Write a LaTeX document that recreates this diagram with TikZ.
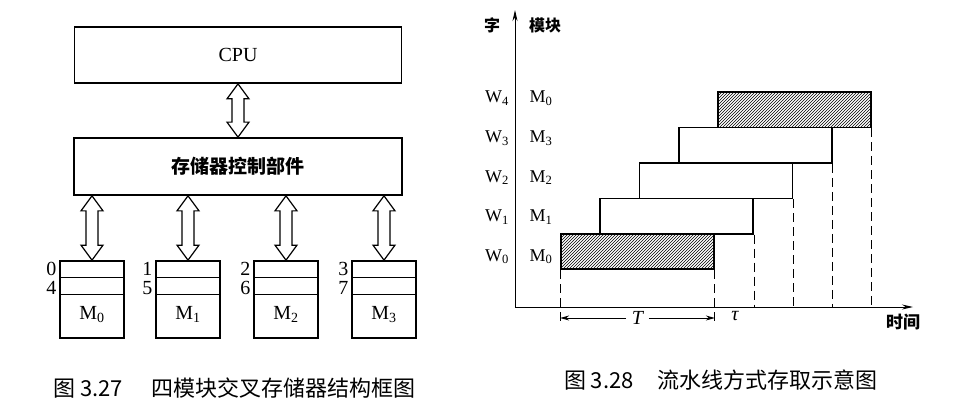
\documentclass[tikz,border=0pt]{standalone}
\usepackage{fontspec}
\setmainfont{Liberation Serif}
\newfontfamily\cjk{Noto Sans CJK SC}
\usetikzlibrary{arrows.meta,patterns,calc}
\newcommand{\fatarrow}[2]{\draw[line width=1.2pt,fill=white] let \p1=(#1),\p2=(#2) in
  (\x1,\y1) -- ++(11pt,-15pt) -- ++(-5pt,0pt) -- (\x1+6pt,\y2+15pt) -- ++(5pt,0pt) -- (\x1,\y2)
  -- ++(-11pt,15pt) -- ++(5pt,0pt) -- (\x1-6pt,\y1-15pt) -- ++(-5pt,0pt) -- cycle;}

\begin{document}
\begin{tikzpicture}[x=1pt,y=-1pt,line width=1.6pt,
  box/.style={draw,line width=1.7pt,inner sep=0pt},
  bar/.style={draw,line width=1.7pt,minimum width=153pt,minimum height=35.4pt,inner sep=0pt},
  hatch/.style={pattern=north east lines},plain/.style={},
  lab/.style={font=\fontsize{18}{18}\selectfont,inner sep=0pt},
  dash line/.style={line width=1.1pt,dash pattern=on 9pt off 5pt},
  tip/.style={-{Stealth[length=9pt,width=5pt]}}]
\useasboundingbox (0,0) rectangle (965,406);
% left: four module interleaved memory
\node[box,minimum width=327pt,minimum height=56pt,font=\fontsize{20}{20}\selectfont] (cpu) at (238,55) {CPU};
\node[box,minimum width=328pt,minimum height=57pt,font=\cjk\bfseries\fontsize{19}{19}\selectfont] (ctl) at (238,166.5) {存储器控制部件};
\fatarrow{cpu.south}{ctl.north}
\foreach \i/\x/\a/\b in {0/92/0/4,1/188/1/5,2/286/2/6,3/384/3/7}{
  \node[box,minimum width=64pt,minimum height=77pt] (m\i) at (\x,299.5) {};
  \draw[line width=1.2pt] ($(m\i.north west)+(0,17)$) -- ($(m\i.north east)+(0,17)$);
  \draw[line width=1.2pt] ($(m\i.north west)+(0,34)$) -- ($(m\i.north east)+(0,34)$);
  \node[font=\fontsize{20}{20}\selectfont,inner sep=0pt] (ml\i) at ($(m\i.north)+(0,54)$) {M\textsubscript{\i}};
  \node[font=\fontsize{20}{20}\selectfont,inner sep=0pt,anchor=east] (ad\i) at ($(m\i.north west)+(-2,9)$) {\a};
  \node[font=\fontsize{20}{20}\selectfont,inner sep=0pt,anchor=east] (bd\i) at ($(m\i.north west)+(-2,28)$) {\b};
  \fatarrow{m\i.north |- ctl.south}{m\i.north}
}
\node[font=\cjk\fontsize{22}{22}\selectfont] (cap1) at (234.5,388) {图 3.27\hspace{1.3em}四模块交叉存储器结构框图};
% right: pipelined access
\coordinate (o) at (515,307);
\coordinate (ytop) at (515,10);
\coordinate (xend) at (913,307);
\coordinate (tb) at (0,322);
\draw[line width=1pt,-{Stealth[length=11pt,width=5pt]}] (o) -- (ytop);
\draw[line width=1pt,-{Stealth[length=11pt,width=5pt]}] (o) -- (xend);
\foreach \i/\s in {0/hatch,1/plain,2/plain,3/plain,4/hatch}{
  \pgfmathsetmacro\bx{637.5+39.25*\i}
  \pgfmathsetmacro\by{251.5-35.4*\i}
  \node[bar,\s] (b\i) at (\bx,\by) {};
}
\foreach \i/\m in {0/0,1/1,2/2,3/3,4/0}{
  \pgfmathsetmacro\ly{256.7-39.6*\i}
  \node[lab] (w\i) at (497,\ly) {W\textsubscript{\i}};
  \node[lab] (r\i) at (541,\ly) {M\textsubscript{\m}};
}
\draw[dash line] (b0.south west) -- (b0.south west |- tb);
\draw[dash line] (b0.south east) -- (b0.south east |- tb);
\foreach \i in {1,...,4}
  \draw[dash line] (b\i.south east) -- (b\i.south east |- o);
\node[font=\itshape\fontsize{20}{20}\selectfont,inner sep=5pt] (T) at (637.5,318) {T};
\draw[line width=1pt,tip] (T.west) -- (b0.south west |- T.center);
\draw[line width=1pt,tip] (T.east) -- (b0.south east |- T.center);
\node[font=\itshape\fontsize{20}{20}\selectfont,inner sep=0pt] (tau) at (735,316) {τ};
\node[font=\cjk\bfseries\fontsize{16}{16}\selectfont] (zi) at (492,25) {字};
\node[font=\cjk\bfseries\fontsize{16}{16}\selectfont] (mk) at (545,25) {模块};
\node[font=\cjk\bfseries\fontsize{17}{17}\selectfont] (sj) at (903,322) {时间};
\node[font=\cjk\fontsize{22}{22}\selectfont] (cap2) at (721,380) {图 3.28\hspace{1.1em}流水线方式存取示意图};
\end{tikzpicture}
\end{document}
